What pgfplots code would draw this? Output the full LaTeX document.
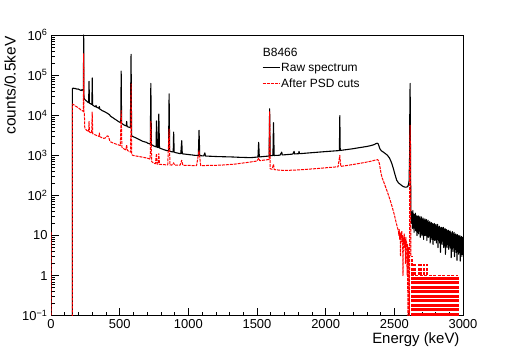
\documentclass[border=0pt]{standalone}
\usepackage{fontspec}
\setmainfont{Liberation Sans}
\usepackage{pgfplots}
\pgfplotsset{compat=1.18}

\definecolor{rootred}{RGB}{255,0,0}

\begin{document}
\begin{tikzpicture}
\begin{axis}[
  name=ax,
  scale only axis,
  width=412bp, height=280.7bp,
  xmin=0, xmax=3000,
  ymode=log, ymin=0.1, ymax=1e6,
  log origin=infty,
  xtick={0,500,1000,1500,2000,2500,3000},
  xticklabels={0,500,1000,1500,2000,2500,3000},
  minor x tick num=4,
  ytick={0.1,1,10,100,1000,10000,100000,1000000},
  yticklabels={10\textsuperscript{−1},1,10,10\textsuperscript{2},10\textsuperscript{3},10\textsuperscript{4},10\textsuperscript{5},10\textsuperscript{6}},
  tick pos=left,
  tick align=inside,
  major tick length=8bp,
  minor tick length=4bp,
  every tick/.style={black, line width=0.6bp},
  axis line style={black, line width=0.7bp},
  ticklabel style={font=\fontsize{13}{15}\selectfont},
  xlabel={Energy (keV)},
  ylabel={counts/0.5keV},
  every axis x label/.style={at={([yshift=-24bp]rel axis cs:1,0)}, anchor=east,
    font=\fontsize{15}{17}\selectfont},
  every axis y label/.style={at={([xshift=-41bp,yshift=2bp]rel axis cs:0,1)}, anchor=east, rotate=90,
    font=\fontsize{15.5}{17}\selectfont},
  legend cell align=left,
  legend image code/.code={\draw[#1] (0bp,0bp) -- (17bp,0bp);},
  legend style={draw=none, fill=none, at={(rel axis cs:0.512,0.854)}, anchor=west,
    font=\fontsize{12}{14}\selectfont, inner sep=0pt, row sep=4bp,
    nodes={inner sep=1bp}},
]

% raw spectrum
\addplot[black, line width=1.1bp, line join=round] coordinates {
(0,12) (0.5,12) (0.5,0.05) (156,0.05) (156,46000) (162,47500) (168,46000) (175,46800) (182,45500)
(190,44500) (197,45200) (205,43800) (212,42500) (220,41000) (226,43500) (232,42000) (236,40000)
(238,1000000) (240,27000) (245,25000) (252,23500) (260,22500) (268,21000) (274,20500) (277,70000)
(280,20000) (286,19500) (293,18800) (298,18500) (300,85000) (303,18000) (310,17200) (318,16600)
(325,16200) (328,17500) (331,16000) (340,15400) (350,14800) (352,16500) (355,14200) (362,13800)
(372,13000) (382,12600) (392,12100) (402,11600) (412,11100) (420,10600) (426,10300) (432,9600)
(440,9100) (450,8700) (460,8200) (470,7800) (480,7400) (490,7000) (500,6700) (508,6500)
(511,126000) (514,6300) (522,6000) (532,5700) (542,5500) (548,5400) (551,7000) (554,5200)
(562,5100) (570,5000) (578,4900) (583,330000) (587,3100) (595,2950) (605,2850) (615,2750)
(625,2650) (635,2550) (645,2450) (655,2350) (665,2250) (675,2200) (685,2150) (695,2100)
(705,2000) (715,1950) (723,1900) (727,62000) (731,1850) (740,1780) (750,1700) (760,1650)
(765,1620) (768,7200) (772,1600) (780,1560) (785,10700) (790,1520) (800,1470) (810,1430)
(820,1390) (830,1350) (840,1320) (850,1300) (856,1280) (860,34000) (864,1260) (872,1240)
(882,1220) (890,1210) (893,3800) (897,1200) (905,1170) (915,1150) (925,1130) (935,1110)
(945,1100) (952,2300) (956,1090) (965,1080) (975,1070) (985,1060) (995,1050) (1005,1040)
(1015,1030) (1025,1025) (1035,1010) (1045,1000) (1055,995) (1065,990) (1073,985) (1078,4200)
(1083,980) (1092,975) (1102,970) (1112,965) (1120,1150) (1125,960) (1135,955) (1150,950)
(1165,945) (1180,940) (1195,935) (1210,930) (1225,928) (1240,925) (1255,920) (1270,918)
(1285,915) (1300,912) (1315,910) (1330,905) (1345,900) (1360,895) (1375,890) (1390,888)
(1405,885) (1420,880) (1435,878) (1450,876) (1465,880) (1480,890) (1495,900) (1507,905)
(1512,2100) (1517,910) (1530,920) (1545,930) (1560,940) (1575,950) (1588,960) (1592,14500)
(1596,975) (1605,985) (1616,988) (1620,6500) (1625,990) (1640,995) (1655,1000) (1668,1010)
(1680,1200) (1684,1020) (1700,1030) (1715,1040) (1730,1050) (1745,1060) (1760,1070) (1770,1250)
(1774,1080) (1790,1090) (1803,1095) (1806,1250) (1810,1100) (1830,1110) (1850,1125) (1870,1140)
(1890,1155) (1910,1170) (1930,1185) (1950,1200) (1970,1215) (1990,1230) (2010,1245) (2030,1260)
(2050,1275) (2070,1290) (2090,1305) (2100,1310) (2103,9800) (2106,1320) (2120,1340) (2140,1370)
(2160,1400) (2180,1430) (2200,1460) (2220,1500) (2240,1540) (2260,1580) (2280,1620) (2300,1660)
(2320,1720) (2340,1790) (2355,1860) (2365,1950) (2375,2000) (2382,1950) (2388,1700) (2395,1450)
(2405,1300) (2420,1200) (2435,1100) (2450,1000) (2465,850) (2480,650) (2492,480) (2505,330)
(2517,240) (2530,205) (2542,190) (2555,175) (2567,165) (2580,160) (2592,162) (2600,172)
(2607,220) (2611,900) (2613,20000) (2615,62000) (2617,3000) (2619,200) (2621,32)
(2623,40) (2626,20) (2629,38) (2632,15) (2635,42) (2638,19) (2641,34) (2644,12) (2647,33)
(2650,16) (2653,36) (2656,13) (2659,32) (2662,16) (2665,10) (2668,30) (2671,12) (2674,31)
(2677,11) (2680,28) (2683,13) (2686,30) (2689,9) (2692,26) (2695,11) (2698,29) (2701,10)
(2704,25) (2707,12) (2710,27) (2713,8) (2716,24) (2719,10) (2722,26) (2725,10) (2728,24)
(2731,11) (2734,25) (2737,7.5) (2740,22) (2743,10) (2746,24) (2749,9) (2752,21) (2755,10)
(2758,22) (2761,6.5) (2764,20) (2767,9) (2770,21) (2773,8) (2776,20) (2779,9.5) (2782,6)
(2785,19) (2788,8) (2791,20) (2794,7.5) (2797,18) (2800,9) (2803,19) (2806,6.5) (2809,17)
(2812,8) (2815,19) (2818,5) (2821,16) (2824,7.5) (2827,17) (2830,6.5) (2833,16) (2836,3.8)
(2839,15) (2842,6.5) (2845,16) (2848,6) (2851,15) (2854,7.5) (2857,16) (2860,5) (2863,14)
(2866,6.5) (2869,15) (2872,3.4) (2875,14) (2878,6) (2881,14) (2884,5) (2887,13) (2890,6)
(2893,13.5) (2896,4.5) (2899,12.5) (2902,5.5) (2905,13) (2908,5) (2911,12) (2914,2.8) (2917,11)
(2920,5) (2923,12.5) (2926,4) (2929,11) (2932,5) (2935,12) (2938,3) (2941,10.5) (2944,4.5)
(2947,11) (2950,3.8) (2953,10) (2956,2.4) (2959,10.5) (2962,4) (2965,10) (2968,3.4) (2971,9.5)
(2974,3.8) (2977,10) (2980,2.3) (2983,9) (2986,3.4) (2989,9.5) (2992,3) (2995,9) (2998,3.4) (3000,7)
};
\addlegendentry{Raw spectrum}

% after PSD cuts
\addplot[rootred, line width=1bp, line join=round, dash pattern=on 3bp off 1bp] coordinates {
(0,12) (0.5,12) (0.5,0.05) (156,0.05) (156,19000) (162,18500) (170,17800) (180,16800) (190,16000)
(200,15200) (210,14300) (220,13300) (230,12800) (236,12500) (238,350000) (240,12000) (243,11000)
(246,4800) (252,4500) (260,4200) (268,4000) (274,3900) (277,7000) (280,3800) (288,3700)
(296,3550) (300,12000) (304,3450) (312,3350) (320,3250) (330,3150) (340,3050) (350,2950)
(352,3600) (356,2900) (365,2800) (375,2700) (385,2650) (395,2700) (403,2900) (410,3050)
(416,3000) (422,2700) (428,2300) (435,2150) (445,2080) (455,2000) (465,1950) (475,1900)
(485,1850) (495,1800) (505,1750) (511,13000) (516,1600) (525,1500) (535,1420) (545,1360)
(551,1800) (556,1320) (565,1270) (575,1230) (580,1200) (583,60000) (587,1050) (595,1000)
(605,980) (620,960) (635,940) (650,920) (665,900) (680,880) (695,860) (710,830) (722,800)
(727,7000) (733,700) (742,660) (752,630) (760,615) (768,1100) (772,605) (780,600) (785,1100)
(790,595) (805,590) (820,585) (835,580) (850,578) (860,4500) (866,575) (880,572) (893,650)
(900,570) (920,568) (940,565) (952,750) (960,563) (980,560) (1000,558) (1030,556) (1060,555)
(1078,1300) (1090,555) (1110,556) (1140,557) (1170,560) (1200,563) (1230,568) (1260,575)
(1290,585) (1320,595) (1350,610) (1380,630) (1410,650) (1440,670) (1470,695) (1500,720)
(1512,850) (1520,735) (1540,750) (1560,765) (1580,780) (1588,790) (1592,12500) (1596,460)
(1610,450) (1620,600) (1626,440) (1645,432) (1670,425) (1700,420) (1730,422) (1760,426)
(1790,430) (1820,436) (1850,444) (1880,452) (1910,460) (1940,468) (1970,478) (2000,488)
(2030,498) (2060,508) (2090,518) (2103,1000) (2110,530) (2140,548) (2170,568) (2200,590)
(2230,615) (2260,640) (2290,668) (2320,700) (2345,735) (2365,765) (2378,780) (2386,720)
(2392,600) (2398,450) (2405,330) (2412,270) (2420,230) (2430,185) (2440,150) (2450,120)
(2460,95) (2470,75) (2480,58) (2490,44) (2500,33) (2508,25) (2515,20) (2522,16) (2530,13)
(2533,10) (2536,14) (2539,8) (2542,12) (2545,3) (2548,11) (2551,9) (2554,13) (2557,7)
(2560,10) (2563,1) (2566,9) (2569,6) (2572,11) (2575,5) (2578,8) (2581,2) (2584,9) (2587,5)
(2590,7) (2593,1) (2596,6) (2599,0.05) (2602,5) (2605,2) (2608,1) (2610,0.05) (2611,150)
(2613,2000) (2615,5600) (2617,800) (2619,30) (2621,3)
};
\addlegendentry{After PSD cuts}

% sparse tail above 2620 keV: bin edges where the count (0 to 3) changes
\addplot[rootred, line width=0.8bp, dash pattern=on 3bp off 1.5bp, ycomb, forget plot] coordinates {
(2621,3) (2625,3) (2628,2) (2630,3) (2633,3) (2636,2) (2639,2) (2641,1) (2644,1) (2646,1)
(2648,2) (2651,2) (2653,1) (2656,1) (2659,1) (2661,1) (2664,1) (2667,1) (2669,1) (2672,1)
(2675,1) (2677,2) (2680,2) (2683,1) (2686,1) (2688,1) (2690,1) (2693,2) (2696,2) (2698,1)
(2701,1) (2704,1) (2707,1) (2709,1) (2712,1) (2714,2) (2717,2) (2720,1) (2723,1) (2725,1)
(2728,1) (2731,1) (2734,1) (2737,2) (2740,2) (2742,1) (2745,1) (2748,1) (2751,1) (2754,1)
(2757,1) (2759,1) (2762,1) (2765,1) (2768,1) (2770,1) (2773,1) (2776,1) (2779,1) (2782,1)
(2785,1) (2787,1) (2790,1) (2793,1) (2796,1) (2799,1) (2802,1) (2804,1) (2807,1) (2810,1)
(2813,1) (2816,1) (2819,1) (2822,1) (2826,1) (2832,1) (2835,1) (2838,1) (2841,1) (2844,1)
(2847,1) (2850,1) (2853,1) (2856,1) (2859,1) (2866,1) (2869,1) (2872,1) (2875,1) (2878,1)
(2881,1) (2884,1) (2887,1) (2890,1) (2893,1) (2896,1) (2899,1) (2907,1) (2910,1) (2913,1)
(2916,1) (2919,1) (2922,1) (2926,1) (2929,1) (2932,1) (2935,1) (2938,1) (2941,1) (2944,1)
(2947,1) (2950,1) (2953,1) (2956,1) (2959,1) (2962,1) (2965,1)
};
\addplot[rootred, line width=0.8bp, dash pattern=on 3bp off 1.5bp, forget plot] coordinates {
(2621,1) (2965,1)
};

\node[anchor=west, inner sep=0pt, font=\fontsize{12}{14}\selectfont] at (rel axis cs:0.514,0.939) {B8466};
\end{axis}
\path ([xshift=-51bp,yshift=-35.3bp]ax.south west) rectangle ++(515bp,351bp);
\end{tikzpicture}
\end{document}
